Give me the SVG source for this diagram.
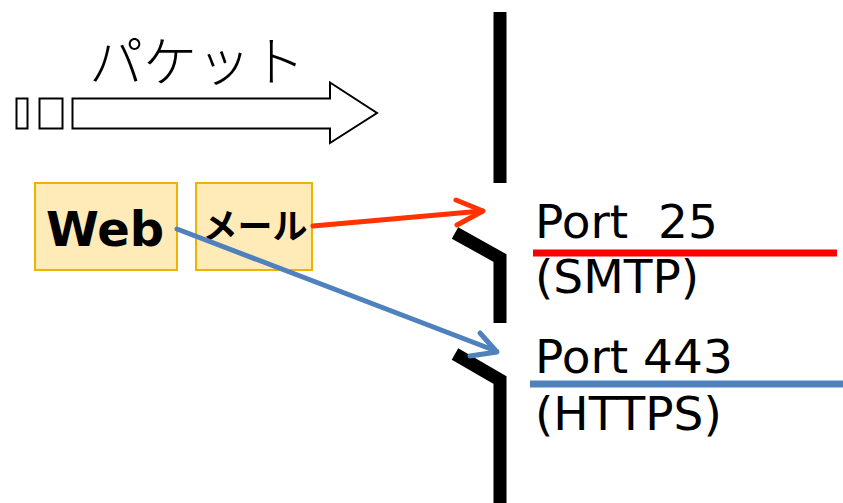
<svg xmlns="http://www.w3.org/2000/svg" width="843" height="503" viewBox="0 0 843 503">
<style>
.wall{fill:none;stroke:#000;stroke-width:13;stroke-linejoin:miter}
.box{fill:#FFEBB7;stroke:#EDB300;stroke-width:2}
.lbl{font-family:"DejaVu Sans","Noto Sans CJK JP",sans-serif;fill:#000;white-space:pre}
.jp{font-family:"Noto Sans CJK JP","DejaVu Sans",sans-serif;fill:#000}
</style>
<rect width="843" height="503" fill="#fff"/>
<g id="packet">
<text class="jp" x="89" y="82" font-size="54" font-weight="300">パケット</text>
<rect x="16.5" y="98.5" width="11" height="30" fill="#fff" stroke="#000" stroke-width="2"/>
<rect x="39.5" y="98.5" width="23" height="30" fill="#fff" stroke="#000" stroke-width="2"/>
<path d="M72.5,98.5 H330 V82.5 L377,113 L330,143 V128.5 H72.5 Z" fill="#fff" stroke="#000" stroke-width="2"/>
</g>
<g id="wall">
<path class="wall" d="M500,12 V183"/>
<path class="wall" d="M455,233 L500,258 V323"/>
<path class="wall" d="M455,354 L500,380 V503"/>
</g>
<g id="web">
<rect class="box" x="35" y="183" width="142" height="87"/>
<text class="lbl" x="105" y="246" font-size="48" font-weight="bold" text-anchor="middle">Web</text>
</g>
<g id="mail">
<rect class="box" x="196" y="183" width="116" height="87"/>
<text class="jp" x="255" y="239" font-size="35" font-weight="bold" text-anchor="middle">メール</text>
</g>
<g id="port25">
<text class="lbl" x="535" y="238" font-size="47" xml:space="preserve">Port  25</text>
<line x1="533" y1="253" x2="837" y2="253" stroke="#FF0000" stroke-width="7"/>
<text class="lbl" x="535" y="293" font-size="47">(SMTP)</text>
</g>
<g id="port443">
<text class="lbl" x="535" y="373" font-size="47">Port 443</text>
<line x1="530" y1="384" x2="843" y2="384" stroke="#4F81BD" stroke-width="7"/>
<text class="lbl" x="535" y="430" font-size="47">(HTTPS)</text>
</g>
<g id="connectors" fill="none" stroke-width="5" stroke-linecap="round" stroke-linejoin="round">
<path d="M313,226 L482,211" stroke="#FF3300"/>
<path d="M456,200 L483,211 L457,225" stroke="#FF3300"/>
<path d="M177,229 L496,351" stroke="#4F81BD"/>
<path d="M480,333 L497,352 L470,356" stroke="#4F81BD"/>
</g>
</svg>
